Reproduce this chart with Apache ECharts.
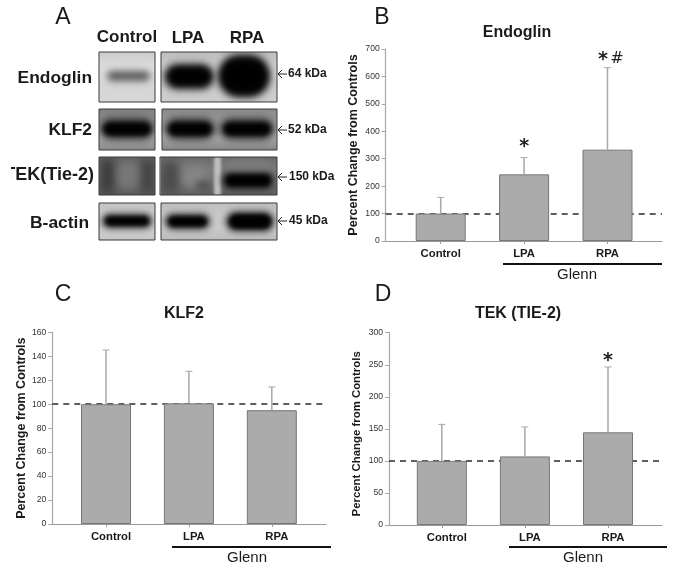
<!DOCTYPE html>
<html><head><meta charset="utf-8">
<style>html,body{margin:0;padding:0;background:#fff}#c{width:683px;height:565px;filter:blur(0.45px)}</style>
<script src="https://cdn.jsdelivr.net/npm/echarts@6/dist/echarts.min.js"></script></head>
<body><div id="c"></div>
<script>
const categories = ['Control', 'LPA', 'RPA'];
const groupLabel = 'Glenn';
const yAxisLabel = 'Percent Change from Controls';

const endoglinMeans = [100, 243, 333];
const endoglinTops = [159, 304, 632];
const endoglinMarks = ['', '*', '* #'];

const klf2Means = [100, 100.7, 95];
const klf2Tops = [145.2, 127.4, 114.4];
const klf2Marks = ['', '', ''];

const tekMeans = [100, 107, 144.6];
const tekTops = [157, 153, 246.5];
const tekMarks = ['', '', '*'];

const blotRowLabels = ['Endoglin', 'KLF2', 'TEK(Tie-2)', 'B-actin'];
const blotSizes = ['64 kDa', '52 kDa', '150 kDa', '45 kDa'];

const FF = '"Liberation Sans", Arial, sans-serif';

/* ---------- chart panels ---------- */
const panels = [
  {title:'Endoglin', means:endoglinMeans, tops:endoglinTops, marks:endoglinMarks, max:700, step:100,
   left:385.7, right:662, top:49, bottom:241, c0:440.7, gap:83.4, titleX:512, titleY:20, nameSize:12.5, nameGap:25.5, labelShift:0, namePad:[0,0,0,0], markDy:[0,-11,-8],
   letter:'B', letterX:382, letterY:18, lineX:[503,662], lineY:264, glennX:577, glennY:275},
  {title:'KLF2', means:klf2Means, tops:klf2Tops, marks:klf2Marks, max:160, step:20,
   left:52.3, right:326, top:332.3, bottom:524, c0:106, gap:82.9, titleX:179, titleY:301, nameSize:12.5, nameGap:24, labelShift:10, namePad:[0,0,0,0], markDy:[0,0,0],
   letter:'C', letterX:63, letterY:295, lineX:[172,331], lineY:547, glennX:247, glennY:558},
  {title:'TEK (TIE-2)', means:tekMeans, tops:tekTops, marks:tekMarks, max:300, step:50,
   left:389, right:662, top:332.7, bottom:525, c0:441.8, gap:83.1, titleX:513, titleY:301, nameSize:11.4, nameGap:27, labelShift:10, namePad:[0,10,0,0], markDy:[0,0,-6],
   letter:'D', letterX:383, letterY:295, lineX:[509,667], lineY:547, glennX:583, glennY:558}
];

const grids=[], xAxes=[], yAxes=[], titles=[], series=[], graphics=[];

function txt(text,x,y,size,weight,extra){
  return {type:'text',x:x,y:y,silent:true,style:Object.assign({text:text,font:(weight||'normal')+' '+size+'px '+FF,fill:'#1a1a1a',textAlign:'center',textVerticalAlign:'middle'},extra||{})};
}

panels.forEach(function(p,i){
  grids.push({left:p.left,top:p.top,width:p.right-p.left,height:p.bottom-p.top,containLabel:false});
  const ticks=[0,1,2];
  xAxes.push({gridIndex:i,type:'value',min:(p.left-p.c0)/p.gap,max:(p.right-p.c0)/p.gap,splitLine:{show:false},
    axisLine:{show:true,onZero:false,lineStyle:{color:'#9a9a9a',width:1}},
    axisTick:{show:true,customValues:ticks,length:3,lineStyle:{color:'#9a9a9a'}},
    axisLabel:{show:true,customValues:ticks,margin:7,formatter:function(v){return categories[v];},
      fontFamily:FF,fontWeight:'bold',fontSize:11.3,color:'#1a1a1a',padding:[0,0,0,p.labelShift]}});
  yAxes.push({gridIndex:i,type:'value',min:0,max:p.max,interval:p.step,splitLine:{show:false},
    axisLine:{show:true,onZero:false,lineStyle:{color:'#a8a8a8',width:1.2}},
    axisTick:{show:true,length:4,lineStyle:{color:'#a8a8a8'}},
    axisLabel:{margin:6,fontFamily:FF,fontSize:8.6,color:'#333'},
    name:yAxisLabel,nameLocation:'middle',nameGap:p.nameGap,nameRotate:90,
    nameTextStyle:{fontFamily:FF,fontWeight:'bold',fontSize:p.nameSize,color:'#1a1a1a',padding:p.namePad}});
  titles.push({text:p.title,left:p.titleX,top:p.titleY,textAlign:'center',
    textStyle:{fontFamily:FF,fontWeight:'bold',fontSize:16,color:'#1a1a1a'}});
  series.push({type:'bar',xAxisIndex:i,yAxisIndex:i,barWidth:50,z:3,
    data:p.means.map(function(v,k){return [k,v];}),
    itemStyle:{color:'#ababab',borderColor:'#777',borderWidth:1},
    markLine:{silent:true,symbol:'none',z:1,label:{show:false},data:[{yAxis:100}],
      lineStyle:{color:'#2a2a2a',type:[6,5],width:1.6}}});
  series.push({type:'custom',xAxisIndex:i,yAxisIndex:i,z:4,clip:false,
    data:p.means.map(function(v,k){return [k,v,p.tops[k]];}),
    encode:{x:0,y:2},
    renderItem:function(params,api){
      const k=api.value(0), a=api.coord([k,api.value(1)]), b=api.coord([k,api.value(2)]);
      const s={stroke:'#a8a8a8',lineWidth:1.5,fill:null};
      const kids=[
        {type:'line',shape:{x1:a[0],y1:a[1],x2:b[0],y2:b[1]},style:s},
        {type:'line',shape:{x1:b[0]-3.5,y1:b[1],x2:b[0]+3.5,y2:b[1]},style:{stroke:'#a8a8a8',lineWidth:1,fill:null}}
      ];
      const parts=p.marks[k]?p.marks[k].split(' '):[];
      parts.forEach(function(m,j){
        const dx=parts.length>1?(j===0?-4.5:9.5):0;
        kids.push({type:'text',x:b[0]+dx,y:b[1]+p.markDy[k]+(m==='#'?-1:0),style:{text:m,font:m==='#'?'16px "DejaVu Sans"':'bold 19px "DejaVu Sans"',fill:'#222',textAlign:'center',textVerticalAlign:'middle'}});
      });
      return {type:'group',children:kids};
    }});
});

/* ---------- western blot panel A (image-like, decorative drawing) ---------- */
const OFF=3000;
function bg(x,y,w,h,stops){
  return {type:'rect',silent:true,shape:{x:x,y:y,width:w,height:h},style:{fill:{type:'linear',x:0,y:0,x2:0,y2:1,colorStops:stops.map(function(c,i){return {offset:i/(stops.length-1),color:c};})}}};
}
function blob(x,y,w,h,c,blur){
  return {type:'rect',silent:true,shape:{x:x-OFF,y:y,width:w,height:h,r:Math.min(w,h)/2},
    style:{fill:c,shadowColor:c,shadowBlur:blur,shadowOffsetX:OFF}};
}
const frames=[[99,52,56,50],[161,52,116,50],[99,109,56,41],[162,109,115,41],[99,157,56,38],[160,157,117,38],[99,203,56,37],[161,203,116,37]];
[
 ['#cdcdcd','#dedede','#d6d6d6','#d8d8d8'],['#bcbcbc','#d4d4d4','#cfcfcf','#cccccc'],
 ['#808080','#969696','#b0b0b0','#8a8a8a'],['#8a8a8a','#a0a0a0','#b0b0b0','#858585'],
 ['#626262','#6e6e6e','#6c6c6c','#585858'],['#6a6a6a','#7a7a7a','#707070','#5e5e5e'],
 ['#c4c4c4','#cfcfcf','#cfcfcf','#c8c8c8'],['#bfbfbf','#c9c9c9','#cbcbcb','#bdbdbd']
].forEach(function(st,i){const f=frames[i];graphics.push(bg(f[0],f[1],f[2],f[3],st));});

[
 // Endoglin
 [107,71,43,10,'#5a5a5a',7],[164,64,50,25,'#262626',9],[168,67,43,19,'#000',6],[218,55,52,42,'#1a1a1a',9],[221,58,46,36,'#000',7],
 // KLF2
 [100,119,54,20,'#1c1c1c',8],[165,119,50,20,'#1c1c1c',8],[220,119,54,20,'#1c1c1c',8],[104,123,46,12,'#000',5],[169,123,42,12,'#000',5],[224,123,46,12,'#000',5],
 // TEK
 [100,158,15,36,'#3c3c3c',8],[140,158,16,36,'#444',8],[120,162,16,26,'#787878',8],
 [160,160,20,34,'#4c4c4c',9],[182,166,26,22,'#858585',9],[195,180,16,12,'#555',7],
 [214,156,7,40,'#c0c0c0',3],[222,172,52,17,'#1c1c1c',7],[226,175,44,11,'#000',4],[226,160,44,8,'#7c7c7c',6],
 // B-actin
 [102,214,50,14,'#1c1c1c',7],[165,214,45,15,'#1c1c1c',7],[226,212,48,19,'#141414',7],[106,217,42,8,'#000',4],[169,217,37,9,'#000',4],[230,215,40,13,'#000',4]
].forEach(function(b){graphics.push(blob(b[0],b[1],b[2],b[3],b[4],b[5]));});

// white gutters hide the soft band edges outside the frames
[[0,40,99,210],[155,40,5.5,210],[277,40,12,210],[90,102,200,7],[90,150,200,7],[90,195,200,8],[90,240,200,10],[90,40,200,12]]
 .forEach(function(r){graphics.push({type:'rect',silent:true,shape:{x:r[0],y:r[1],width:r[2],height:r[3]},style:{fill:'#fff'}});});
frames.forEach(function(f){graphics.push({type:'rect',silent:true,shape:{x:f[0],y:f[1],width:f[2],height:f[3]},style:{fill:'none',stroke:'#3a3a3a',lineWidth:1}});});

graphics.push(txt('A',63,18,23));
graphics.push(txt('Control',127,37,17,'bold'));
graphics.push(txt('LPA',188,38,17,'bold'));
graphics.push(txt('RPA',247,38,17,'bold'));

[[92,78],[92,130],[94,175],[89,223]].forEach(function(pos,i){
  graphics.push(txt(blotRowLabels[i],pos[0],pos[1],i===2?18:17.4,'bold',{textAlign:'right'}));
});
graphics.push({type:'rect',silent:true,shape:{x:0,y:163,width:11,height:24},style:{fill:'#fff'}});

[[288,74],[288,130],[289,177],[289,221]].forEach(function(pos,i){
  const y=pos[1], x0=278, x1=287;
  graphics.push(txt(blotSizes[i],pos[0],y,12,'bold',{textAlign:'left'}));
  graphics.push({type:'polyline',silent:true,shape:{points:[[x0+4,y-4],[x0,y],[x0+4,y+4]]},style:{fill:'none',stroke:'#222',lineWidth:1}});
  graphics.push({type:'line',silent:true,shape:{x1:x0,y1:y,x2:x1,y2:y},style:{stroke:'#222',lineWidth:1}});
});

panels.forEach(function(p){
  graphics.push(txt(p.letter,p.letterX,p.letterY,23));
  graphics.push({type:'line',silent:true,shape:{x1:p.lineX[0],y1:p.lineY,x2:p.lineX[1],y2:p.lineY},style:{stroke:'#111',lineWidth:2}});
  graphics.push(txt(groupLabel,p.glennX,p.glennY,15));
});

const chart=echarts.init(document.getElementById('c'),null,{renderer:'canvas'});
chart.setOption({animation:false,backgroundColor:'#fff',grid:grids,xAxis:xAxes,yAxis:yAxes,title:titles,series:series,graphic:{elements:graphics}});
</script></body></html>
